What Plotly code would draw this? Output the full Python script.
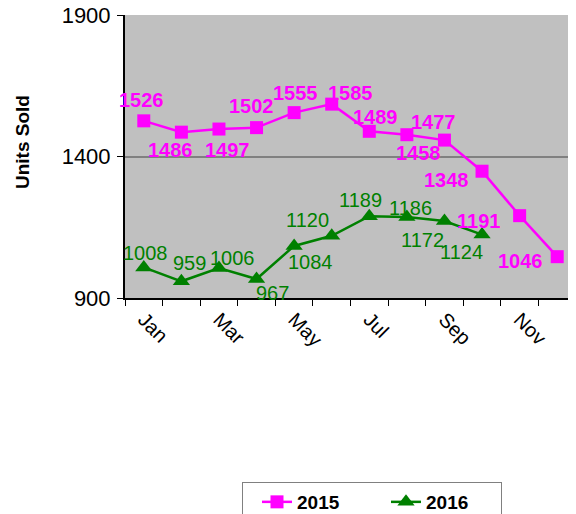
import plotly.graph_objects as go

months = ["Jan", "Feb", "Mar", "Apr", "May", "Jun", "Jul", "Aug", "Sep", "Oct", "Nov", "Dec"]
tick_text = ["Jan", "", "Mar", "", "May", "", "Jul", "", "Sep", "", "Nov", ""]
sales_2015 = [1526, 1486, 1497, 1502, 1555, 1585, 1489, 1477, 1458, 1348, 1191, 1046]
months_2016 = months[:10]
sales_2016 = [1008, 959, 1006, 967, 1084, 1120, 1189, 1186, 1172, 1124]

# label offsets (pixels) to mimic hand-placed data labels
off_2015 = [(-2, 21), (-11, -18), (9, -21), (-5, 22), (1, 20), (19, 11),
            (6, 14), (27, 13), (-26, -13), (-36, -9), (-41, -5), (-37, -4)]
off_2016 = [(2, 14), (8, 18), (14, 10), (16, -14), (16, -16), (-24, 16),
            (-9, 16), (4, 9), (-22, -19), (-21, -17)]

MAG = "#FF00FF"
GRN = "#008000"
FONT = "Arial, Liberation Sans, sans-serif"

# page body has an 8px margin; figure spans page x 8..576, y 8..514
W, H = 568, 506
ML, MT, MB = 117, 7, 216
PW = W - ML
PH = H - MT - MB

fig = go.Figure()
fig.add_trace(go.Scatter(
    x=months, y=sales_2015, name="<b>2015</b>", mode="lines+markers",
    line=dict(color=MAG, width=2.5),
    marker=dict(symbol="square", size=13, color=MAG),
))
fig.add_trace(go.Scatter(
    x=months_2016, y=sales_2016, name="<b>2016</b>", mode="lines+markers",
    line=dict(color=GRN, width=2.5),
    marker=dict(symbol="triangle-up", size=15, color=GRN),
))

annotations = []
for m, v, (dx, dy) in zip(months, sales_2015, off_2015):
    annotations.append(dict(x=m, y=v, text=f"<b>{v}</b>", showarrow=False,
                            xshift=dx, yshift=dy,
                            font=dict(family=FONT, size=20, color=MAG)))
for m, v, (dx, dy) in zip(months_2016, sales_2016, off_2016):
    annotations.append(dict(x=m, y=v, text=str(v), showarrow=False,
                            xshift=dx, yshift=dy,
                            font=dict(family=FONT, size=20, color=GRN)))
annotations.append(dict(xref="paper", yref="paper", x=(22 - 125) / PW,
                        y=(298 - 142) / PH,
                        text="<b>Units Sold</b>", textangle=-90, showarrow=False,
                        xanchor="center", yanchor="middle",
                        font=dict(family=FONT, size=19, color="black")))

fig.update_layout(
    width=W, height=H,
    margin=dict(l=ML, r=0, t=MT, b=MB, autoexpand=False),
    paper_bgcolor="white", plot_bgcolor="#C0C0C0",
    font=dict(family=FONT, size=20, color="black"),
    showlegend=True,
    legend=dict(orientation="h", x=(242 - 125) / PW, y=(298 - 482) / PH,
                xanchor="left", yanchor="top",
                bordercolor="#808080", borderwidth=1, bgcolor="white",
                font=dict(family=FONT, size=19, color="black"),
                traceorder="normal", indentation=14, entrywidth=70,
                entrywidthmode="pixels"),
    annotations=annotations,
)
fig.update_xaxes(
    type="category", categoryorder="array", categoryarray=months,
    range=[-0.5, 11.5], automargin=False,
    tickmode="array", tickvals=months, ticktext=tick_text,
    tickson="boundaries", ticks="outside", ticklen=6, tickcolor="black",
    tickangle=45, showline=True, linecolor="black", linewidth=2,
    showgrid=False, zeroline=False,
    tickfont=dict(family=FONT, size=20, color="black"),
)
fig.update_yaxes(
    range=[900, 1900], tickvals=[900, 1400, 1900], automargin=False,
    ticks="outside", ticklen=6, tickcolor="black",
    showline=True, linecolor="black", linewidth=2,
    showgrid=True, gridcolor="#808080", gridwidth=2, zeroline=False,
    tickfont=dict(family=FONT, size=22, color="black"),
    ticklabelstandoff=2, ticklabeloverflow="allow",
)

fig.write_html("out.html")
